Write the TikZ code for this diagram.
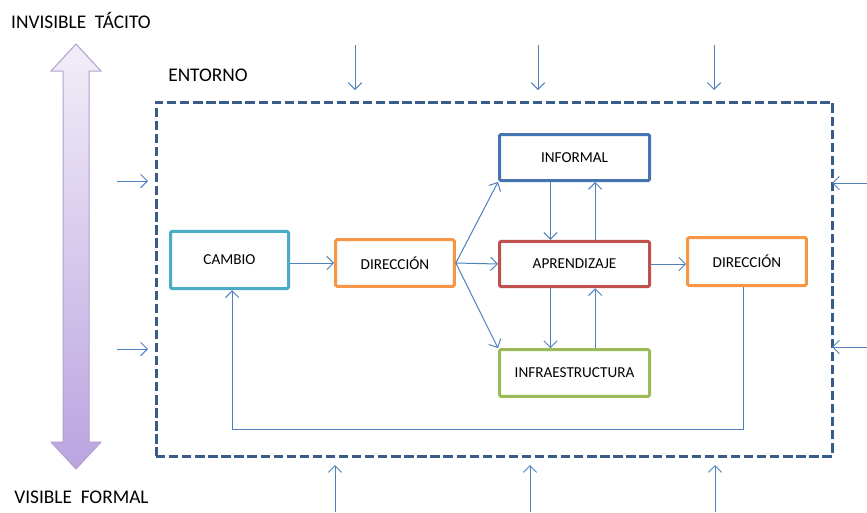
\documentclass[tikz,border=0pt]{standalone}
\usepackage{fontspec}
\setmainfont{Carlito}
\usepackage{xcolor}
\definecolor{FlowBlue}{RGB}{79,129,189}
\definecolor{DashBlue}{RGB}{56,93,138}
\definecolor{CambioTeal}{RGB}{75,172,198}
\definecolor{DirOrange}{RGB}{247,150,70}
\definecolor{InfBlue}{RGB}{70,115,178}
\definecolor{AprRed}{RGB}{192,80,77}
\definecolor{InfraGreen}{RGB}{155,187,89}
\definecolor{LilaEdge}{RGB}{178,160,205}
\definecolor{LilaTop}{RGB}{242,238,248}
\definecolor{LilaBottom}{RGB}{186,164,224}
\usepackage{tikz}
\usetikzlibrary{arrows.meta}

\tikzset{
  caja/.style={draw, line width=2.25pt, rounded corners=1pt, fill=white,
    inner sep=0pt, font=\fontsize{11.4}{13}\selectfont},
  flecha/.style={draw=FlowBlue, line width=0.75pt,
    -{Straight Barb[length=5pt,width=10pt]}},
  rotulo/.style={font=\fontsize{14.5}{17}\selectfont}
}

\begin{document}
\begin{tikzpicture}[x=0.75pt,y=-0.75pt]
            \useasboundingbox (0,0) rectangle (867,512);
            \shadedraw[top color=LilaTop, bottom color=LilaBottom, draw=LilaEdge, line width=0.75pt]
              (63,71) -- (51,71) -- (76,44) -- (101,71) -- (89,71) -- (89,442) -- (101,442)
              -- (76,469) -- (51,442) -- (63,442) -- cycle;
            \node[rotulo] (tacito) at (81,20) {INVISIBLE\ \ TÁCITO};
            \node[rotulo] (formal) at (81.5,497) {VISIBLE\ \ FORMAL};
            \node[rotulo] (entorno) at (208,75) {ENTORNO};
            \node[draw=DashBlue, line width=2.25pt, dash pattern=on 7pt off 2.8pt,
              minimum width=507pt, minimum height=265.5pt, inner sep=0pt] (marco) at (494,279) {};

            \node[caja, draw=CambioTeal, minimum width=88.5pt, minimum height=43pt] (cambio) at (229.5,260) {CAMBIO};
            \node[caja, draw=DirOrange, minimum width=89pt, minimum height=35pt] (dir1) at (395,263) {DIRECCIÓN};
            \node[caja, draw=InfBlue, minimum width=112.5pt, minimum height=34.5pt] (informal) at (574.5,157.5) {INFORMAL};
            \node[caja, draw=AprRed, minimum width=112.5pt, minimum height=34pt] (apren) at (574.5,264) {APRENDIZAJE};
            \node[caja, draw=InfraGreen, minimum width=112.5pt, minimum height=35pt] (infra) at (574.5,373) {INFRAESTRUCTURA};
            \node[caja, draw=DirOrange, minimum width=89pt, minimum height=36pt] (dir2) at (747,261.5) {DIRECCIÓN};

            \draw[flecha] (cambio.east |- dir1.west) -- (dir1.west);
            \draw[flecha] (dir1.east) -- (informal.south west);
            \draw[flecha] (dir1.east) -- (apren.west);
            \draw[flecha] (dir1.east) -- (infra.north west);
            \draw[flecha] ([xshift=-18pt]informal.south) -- ([xshift=-18pt]apren.north);
            \draw[flecha] ([xshift=15.5pt]apren.north) -- ([xshift=15.5pt]informal.south);
            \draw[flecha] ([xshift=-18pt]apren.south) -- ([xshift=-18pt]infra.north);
            \draw[flecha] ([xshift=15.5pt]infra.north) -- ([xshift=15.5pt]apren.south);
            \draw[flecha] (apren.east) -- (apren.east -| dir2.west);
            \draw[flecha] ([xshift=-3pt]dir2.south) -- ++(0,142) -| ([xshift=2pt]cambio.south);

            \foreach \x [count=\i] in {355,538,714} {
              \coordinate (arriba\i) at (\x,45);
              \coordinate (arribaf\i) at (\x,90);
              \draw[flecha] (arriba\i) -- (arribaf\i);
            }
            \foreach \x [count=\i] in {335,530,715} {
              \coordinate (abajo\i) at (\x,512);
              \coordinate (abajof\i) at (\x,465);
              \draw[flecha] (abajo\i) -- (abajof\i);
            }
            \foreach \y [count=\i] in {181,349} {
              \coordinate (izq\i) at (117,\y);
              \coordinate (izqf\i) at (148,\y);
              \draw[flecha] (izq\i) -- (izqf\i);
            }
            \foreach \y [count=\i] in {183,347} {
              \coordinate (der\i) at (867,\y);
              \coordinate (derf\i) at (832,\y);
              \draw[flecha] (der\i) -- (derf\i);
            }
        \end{tikzpicture}
\end{document}
